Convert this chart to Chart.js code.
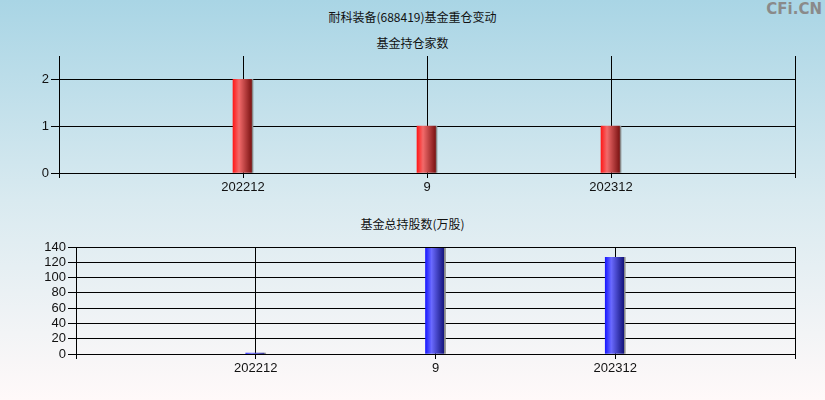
<!DOCTYPE html>
<html>
<head>
<meta charset="utf-8">
<script src="https://cdn.jsdelivr.net/npm/chart.js@4.4.1/dist/chart.umd.min.js"></script>
<style>
    html, body { margin: 0; padding: 0; }
    #wrap {
        position: relative;
        width: 825px;
        height: 400px;
        overflow: hidden;
        background: linear-gradient(to bottom, #a9d5e5 0%, #d9eaf0 50%, #fff9f9 100%);
        font-family: "Noto Sans CJK SC", "Liberation Sans", sans-serif;
        color: #111;
    }
    .txt { position: absolute; font-size: 12px; line-height: 14px; white-space: nowrap; }
    #title { left: 0; width: 825px; top: 10px; text-align: center; }
    #sub1 { left: 0; width: 825px; top: 36px; text-align: center; }
    #sub2 { left: 0; width: 825px; top: 217px; text-align: center; }
    #mark { right: 3px; top: 2px; font-family: "DejaVu Sans", sans-serif; font-weight: bold; font-size: 15px; color: #8a8a8a; }
    canvas { position: absolute; left: 0; }
    #c1 { top: 0; }
    #c2 { top: 200px; }
</style>
</head>
<body>
<div id="wrap">
    <div class="txt" id="title">耐科装备(688419)基金重仓变动</div>
    <div class="txt" id="sub1">基金持仓家数</div>
    <div class="txt" id="sub2">基金总持股数(万股)</div>
    <div class="txt" id="mark">CFi.CN</div>
    <canvas id="c1" width="825" height="200"></canvas>
    <canvas id="c2" width="825" height="200"></canvas>
</div>
<script>
const categories = ['202212', '9', '202312'];
const fundCounts = [2, 1, 1];
const totalShares = [1.2, 138.3, 126.5];

// blank slots at both ends so categories sit on the inner grid lines
const labels = [''].concat(categories, ['']);

function padded(values) {
    return [null].concat(values, [null]);
}

function barGradient(ctx, light, mid, dark) {
    const chart = ctx.chart;
    const xScale = chart.scales.x;
    if (!xScale || ctx.dataIndex === undefined) return mid;
    const cx = xScale.getPixelForValue(ctx.dataIndex);
    if (!isFinite(cx)) return mid;
    const g = chart.ctx.createLinearGradient(cx - 10, 0, cx + 10, 0);
    g.addColorStop(0, light);
    g.addColorStop(0.3, mid);
    g.addColorStop(0.92, dark);
    g.addColorStop(0.95, '#888888');
    g.addColorStop(1, '#888888');
    return g;
}

function makeChart(canvasId, values, yMax, yStep, yWidth, top, bottom, colors) {
    const ctx = document.getElementById(canvasId).getContext('2d');
    return new Chart(ctx, {
        type: 'bar',
        data: {
            labels: labels,
            datasets: [{
                data: padded(values),
                barThickness: 20,
                borderWidth: 0,
                backgroundColor: c => barGradient(c, colors[0], colors[1], colors[2])
            }]
        },
        options: {
            responsive: false,
            animation: false,
            layout: { padding: { left: 0, right: 30, top: top, bottom: bottom } },
            plugins: { legend: { display: false }, tooltip: { enabled: false } },
            scales: {
                x: {
                    offset: false,
                    grid: { offset: false, color: '#000', lineWidth: 1, tickLength: 5, drawTicks: true },
                    border: { color: '#000', width: 1 },
                    ticks: {
                        color: '#111',
                        font: { family: 'Liberation Sans', size: 13 },
                        padding: 2,
                        maxRotation: 0,
                        autoSkip: false
                    },
                    afterFit: s => { s.height = 27; }
                },
                y: {
                    min: 0,
                    max: yMax,
                    grid: { color: '#000', lineWidth: 1, tickLength: 8 },
                    border: { color: '#000', width: 1 },
                    ticks: {
                        stepSize: yStep,
                        autoSkip: false,
                        color: '#111',
                        font: { family: 'Liberation Sans', size: 13 },
                        padding: 2
                    },
                    afterBuildTicks: s => {
                        s.ticks = s.ticks.filter(t => Math.abs(t.value / yStep - Math.round(t.value / yStep)) < 1e-6);
                    },
                    afterFit: s => { s.width = yWidth; }
                }
            }
        }
    });
}

makeChart('c1', fundCounts, 2.5, 1, 59, 56, 0, ['#ff1a1a', '#f26a6a', '#7e1515']);
makeChart('c2', totalShares, 140, 20, 76, 47, 19, ['#1a1aff', '#6a6aff', '#15157e']);
</script>
</body>
</html>
